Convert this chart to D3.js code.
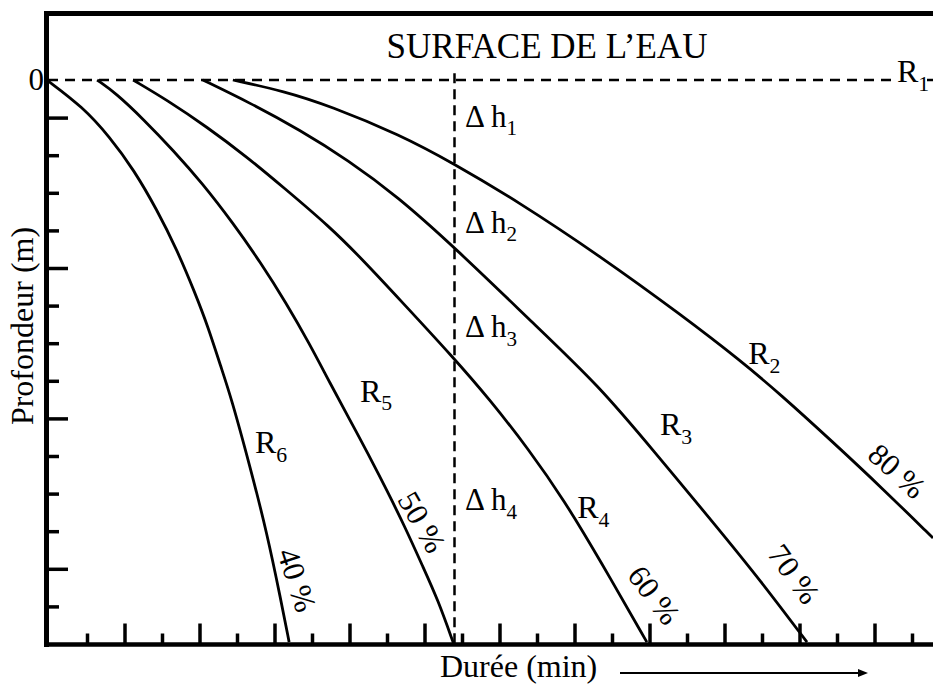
<!DOCTYPE html>
<html>
<head>
<meta charset="utf-8">
<script src="https://cdn.jsdelivr.net/npm/d3@7"></script>
<style>
body { margin: 0; background: #fff; }
text { font-family: "Liberation Serif", "Times New Roman", serif; fill: #000; }
</style>
</head>
<body>
<div id="chart"></div>
<script>
// courbes de profondeur : [durée, profondeur] en unités de graduation
const R2 = [[4.89,0],[6.23,0.29],[7.48,0.69],[9.35,1.46],[10.76,2.21],[12.47,3.22],[14.68,4.68],[16.89,6.28],[18.41,7.45],[19.48,8.35],[20.89,9.63],[22.23,10.88],[23.56,12.18]];
const R3 = [[4.09,0],[5.35,0.61],[6.68,1.33],[7.96,2.13],[9.27,3.09],[10.79,4.44],[12.89,6.46],[14.68,8.16],[16.09,9.84],[17.80,11.89],[18.95,13.30],[20.20,14.95]];
const R4 = [[2.23,0],[3.13,0.53],[4.20,1.25],[5.27,2.05],[6.23,2.85],[7.48,3.91],[8.36,4.79],[9.35,5.85],[10.76,7.37],[11.75,8.51],[12.79,9.84],[13.72,11.17],[14.68,12.77],[15.93,14.95]];
const R5 = [[1.27,0],[1.77,0.35],[2.52,1.06],[3.29,1.86],[4.07,2.74],[4.89,3.80],[5.64,4.87],[6.31,5.93],[6.92,6.99],[7.48,8.06],[8.01,9.04],[8.47,9.89],[9.03,10.98],[9.48,11.89],[9.96,12.95],[10.36,13.83],[10.78,15]];
const R6 = [[-0.07,0],[0.89,0.72],[1.61,1.52],[2.25,2.39],[2.87,3.46],[3.40,4.52],[3.88,5.66],[4.23,6.57],[4.57,7.63],[4.84,8.43],[5.35,10.29],[5.80,12.05],[6.17,13.83],[6.39,14.95]];

const rates = ["80 %", "70 %", "60 %", "50 %", "40 %"];
const curveNames = ["R2", "R3", "R4", "R5", "R6"];
const deltaNames = ["1", "2", "3", "4"];

const depthMajor = [1, 5, 9, 13];
const depthMinor = [2, 3, 4, 6, 7, 8, 10, 11, 12, 14];
const timeMajor = d3.range(2, 24, 2);
const timeMinor = d3.range(1, 24, 2);
const tRef = 10.8; // durée de référence (ligne verticale)

const width = 933, height = 684;

const svg = d3.select("#chart").append("svg")
	.attr("width", width).attr("height", height);

const x = d3.scaleLinear().domain([0, 23]).range([49.5, 912]);
const y = d3.scaleLinear().domain([0, 15]).range([80, 644]);

// axes
const axisG = svg.append("g");
function tickAxis(axis, tv, size, tr) {
	const g = axisG.append("g").attr("transform", tr)
		.call(axis.tickValues(tv).tickSize(size).tickFormat(""));
	g.select(".domain").remove();
	g.selectAll(".tick line").attr("stroke", "#000").attr("stroke-width", 3.5);
}
tickAxis(d3.axisLeft(y), depthMajor, -21, "translate(47,0)");
tickAxis(d3.axisLeft(y), depthMinor, -12, "translate(47,0)");
tickAxis(d3.axisBottom(x), timeMajor, -21, "translate(0,644.5)");
tickAxis(d3.axisBottom(x), timeMinor, -11, "translate(0,644.5)");

// cadre
svg.append("line").attr("x1", 44.5).attr("x2", width).attr("y1", 13.5).attr("y2", 13.5)
	.attr("stroke", "#000").attr("stroke-width", 5);
svg.append("line").attr("x1", 46.5).attr("x2", 46.5).attr("y1", 11).attr("y2", 647)
	.attr("stroke", "#000").attr("stroke-width", 5);
svg.append("line").attr("x1", 44.5).attr("x2", width).attr("y1", 644.5).attr("y2", 644.5)
	.attr("stroke", "#000").attr("stroke-width", 4.5);

// ligne R1 (surface) et ligne de référence
svg.append("line").attr("x1", 48).attr("x2", 897).attr("y1", y(0)).attr("y2", y(0))
	.attr("stroke", "#000").attr("stroke-width", 2.5).attr("stroke-dasharray", "10,7");
svg.append("line").attr("x1", 927).attr("x2", 933).attr("y1", y(0)).attr("y2", y(0))
	.attr("stroke", "#000").attr("stroke-width", 2.5);
svg.append("line").attr("x1", x(tRef)).attr("x2", x(tRef)).attr("y1", y(-0.18)).attr("y2", y(15))
	.attr("stroke", "#000").attr("stroke-width", 2.5).attr("stroke-dasharray", "10,6");

// courbes
const line = d3.line().x(d => x(d[0])).y(d => y(d[1])).curve(d3.curveBasis);
svg.selectAll("path.curve")
	.data([R2, R3, R4, R5, R6])
	.join("path")
	.attr("class", "curve")
	.attr("d", line)
	.attr("fill", "none")
	.attr("stroke", "#000")
	.attr("stroke-width", 2.8);

// étiquettes avec indice
function subLabel(px, py, main, sub, size) {
	const t = svg.append("text").attr("x", px).attr("y", py).style("font-size", size + "px");
	t.append("tspan").text(main);
	t.append("tspan").attr("dy", size * 0.27).style("font-size", (size * 0.68) + "px").text(sub);
}
subLabel(897, y(0.05), "R", "1", 32);
const rLabelPos = [[18.63, 7.55], [16.28, 9.44], [14.07, 11.65], [8.28, 8.56], [5.48, 9.92]];
curveNames.forEach((n, i) => subLabel(x(rLabelPos[i][0]), y(rLabelPos[i][1]), "R", n.slice(1), 32));

const deltaDepth = [1.25, 4.07, 6.84, 11.44];
deltaNames.forEach((n, i) => subLabel(x(11.08), y(deltaDepth[i]), "\u0394 h", n, 31));

// pourcentages le long des courbes
const ratePos = [[22.6, 10.40, 42], [19.85, 13.14, 54], [16.12, 13.70, 53], [9.93, 11.76, 60], [6.60, 13.30, 72]];
rates.forEach((r, i) => {
	const [t, d, a] = ratePos[i];
	svg.append("text")
		.attr("transform", `translate(${x(t)},${y(d)}) rotate(${a})`)
		.attr("text-anchor", "middle")
		.attr("dominant-baseline", "central")
		.style("font-size", "31px")
		.text(r);
});

// textes
svg.append("text").attr("x", 547).attr("y", 58).attr("text-anchor", "middle")
	.style("font-size", "35px").text("SURFACE DE L\u2019EAU");
svg.append("text").attr("x", 44).attr("y", 90).attr("text-anchor", "end")
	.style("font-size", "31px").text("0");
svg.append("text").attr("transform", "translate(33,326) rotate(-90)").attr("text-anchor", "middle")
	.style("font-size", "32px").text("Profondeur (m)");
svg.append("text").attr("x", 440).attr("y", 677)
	.style("font-size", "32px").text("Durée (min)");

// flèche
svg.append("line").attr("x1", 620).attr("x2", 860).attr("y1", 673).attr("y2", 673)
	.attr("stroke", "#000").attr("stroke-width", 2);
svg.append("path").attr("d", "M858,669 L868,673 L858,677 Z").attr("fill", "#000");
</script>
</body>
</html>
